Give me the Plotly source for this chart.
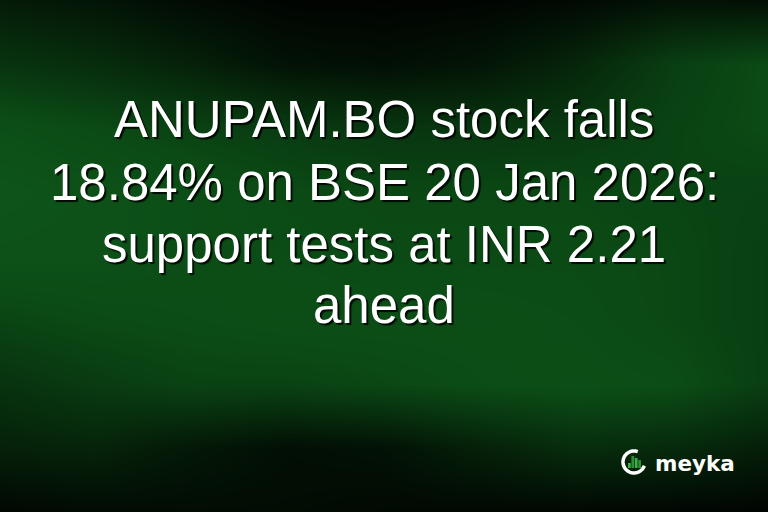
import math
import plotly.graph_objects as go

# headline lines and brand
title_lines = [
    "ANUPAM.BO stock falls",
    "18.84% on BSE 20 Jan 2026:",
    "support tests at INR 2.21",
    "ahead",
]
line_y = [119, 182, 244, 305]
brand = "meyka"

# background glow (0 = black, 1 = bright green)
grid_x = [0, 96, 192, 288, 384, 480, 576, 672, 768]
grid_y = [0, 64, 128, 192, 256, 320, 384, 448, 512]
glow = [
    [0.18, 0.14, 0.07, 0.03, 0.02, 0.03, 0.06, 0.12, 0.10],
    [0.35, 0.30, 0.22, 0.12, 0.10, 0.14, 0.25, 0.42, 0.50],
    [0.55, 0.50, 0.45, 0.40, 0.36, 0.36, 0.38, 0.45, 0.50],
    [0.62, 0.58, 0.54, 0.50, 0.48, 0.48, 0.48, 0.46, 0.44],
    [0.58, 0.57, 0.54, 0.52, 0.50, 0.50, 0.50, 0.48, 0.42],
    [0.46, 0.50, 0.52, 0.54, 0.54, 0.54, 0.52, 0.48, 0.42],
    [0.34, 0.40, 0.45, 0.45, 0.48, 0.52, 0.54, 0.52, 0.42],
    [0.22, 0.24, 0.16, 0.10, 0.12, 0.22, 0.30, 0.28, 0.20],
    [0.05, 0.07, 0.08, 0.08, 0.06, 0.05, 0.05, 0.04, 0.03],
]

# logo bars (relative heights inside the ring)
bar_heights = [5, 12, 10, 8]

fig = go.Figure()
fig.add_trace(
    go.Heatmap(
        x=grid_x,
        y=grid_y,
        z=glow,
        zsmooth="best",
        zmin=0,
        zmax=1,
        colorscale=[[0, "#000000"], [0.5, "#0b4a15"], [1, "#17752a"]],
        showscale=False,
        hoverinfo="skip",
    )
)

for txt, y in zip(title_lines, line_y):
    fig.add_annotation(
        x=384,
        y=y,
        text=txt,
        showarrow=False,
        xanchor="center",
        yanchor="middle",
        font=dict(
            family="Liberation Sans, Arial",
            size=51,
            color="white",
            shadow="2px 2px 1px rgba(0,0,0,0.85)",
        ),
    )

# logo ring: open near the top right
cx, cy, r = 634, 462, 11
pts = []
for i in range(41):
    a = math.radians(-70 - 270 * i / 40)
    pts.append((cx + r * math.cos(a), cy + r * math.sin(a)))
ring = "M " + " L ".join(f"{px:.2f},{py:.2f}" for px, py in pts)
fig.add_shape(type="path", path=ring, line=dict(color="white", width=3.5))
for i, h in enumerate(bar_heights):
    x0 = 628 + i * 3.4
    fig.add_shape(
        type="rect", x0=x0, x1=x0 + 2.8, y0=468 - h, y1=468,
        line=dict(width=0), fillcolor="#3cae45" if i % 2 == 0 else "#2b8f35",
    )
fig.add_annotation(
    x=653,
    y=463,
    text="<b>" + brand + "</b>",
    showarrow=False,
    xanchor="left",
    yanchor="middle",
    font=dict(family="DejaVu Sans, Open Sans", size=21.5, color="white"),
)

fig.update_xaxes(range=[0, 768], visible=False, fixedrange=True)
fig.update_yaxes(range=[512, 0], visible=False, fixedrange=True)
fig.update_layout(
    width=768,
    height=512,
    margin=dict(l=0, r=0, t=0, b=0),
    paper_bgcolor="#000000",
    plot_bgcolor="#000000",
    showlegend=False,
)

fig.write_html(
    "out.html",
    config={"displayModeBar": False},
    post_script="document.body.style.margin='0';document.body.style.background='#000';",
)
